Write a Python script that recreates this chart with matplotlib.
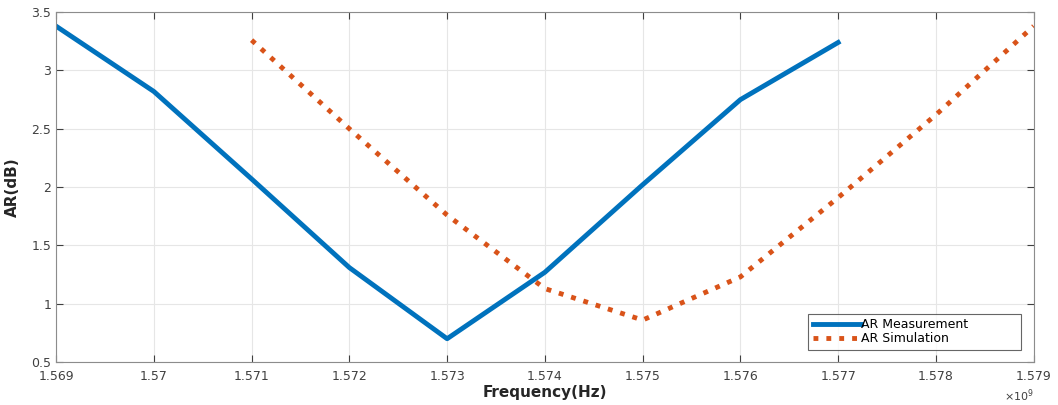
import numpy as np
import matplotlib.pyplot as plt
from matplotlib.ticker import FuncFormatter, MultipleLocator

# frequency in GHz, plotted in Hz
freq_meas = np.array([1.569, 1.570, 1.571, 1.572, 1.573, 1.574, 1.575, 1.576, 1.577]) * 1e9
ar_meas = [3.38, 2.82, 2.07, 1.31, 0.70, 1.27, 2.02, 2.75, 3.24]

freq_sim = np.array([1.571, 1.572, 1.573, 1.574, 1.575, 1.576, 1.577, 1.578, 1.579]) * 1e9
ar_sim = [3.26, 2.50, 1.76, 1.13, 0.86, 1.23, 1.91, 2.62, 3.38]

fig = plt.figure(figsize=(10.58, 4.05), dpi=100)
ax = fig.add_axes([0.053, 0.106, 0.924, 0.864])

ax.plot(freq_meas, ar_meas, color='#0072BD', lw=3.5, label='AR Measurement')
ax.plot(freq_sim, ar_sim, color='#D95319', lw=3.5, ls=':', label='AR Simulation')

ax.set_xlim(1.569e9, 1.579e9)
ax.set_ylim(0.5, 3.5)
ax.xaxis.set_major_locator(MultipleLocator(1e6))
ax.yaxis.set_major_locator(MultipleLocator(0.5))
ax.xaxis.set_major_formatter(FuncFormatter(lambda v, p: '{:g}'.format(round(v / 1e9, 3))))
ax.yaxis.set_major_formatter(FuncFormatter(lambda v, p: '{:g}'.format(v)))

ax.grid(True, color='#e6e6e6', lw=0.8)
ax.set_axisbelow(True)
ax.tick_params(direction='in', length=5, labelsize=9, colors='#404040', top=True, right=True)
ax.tick_params(axis='x', pad=6)
for s in ax.spines.values():
    s.set_color('#8c8c8c')

ax.set_xlabel('Frequency(Hz)', fontsize=11, fontweight='bold', color='#262626', labelpad=1)
ax.set_ylabel('AR(dB)', fontsize=11, fontweight='bold', color='#262626', labelpad=8)
ax.text(1.0, -0.095, r'$\times10^9$', transform=ax.transAxes, ha='right', va='center',
        fontsize=8, color='#404040')

leg = ax.legend(loc='lower right', fontsize=9, frameon=True, fancybox=False,
                handlelength=3.9, handletextpad=0.0, borderpad=0.35, labelspacing=0.1,
                borderaxespad=0, bbox_to_anchor=(0.987, 0.035))
leg.get_frame().set_edgecolor('#404040')
leg.get_frame().set_linewidth(0.8)
# MATLAB legend box leaves extra room after the text
for t in leg.get_texts():
    t.set_text(t.get_text() + ' ' * 12)

fig.savefig('out.png', dpi=100)
